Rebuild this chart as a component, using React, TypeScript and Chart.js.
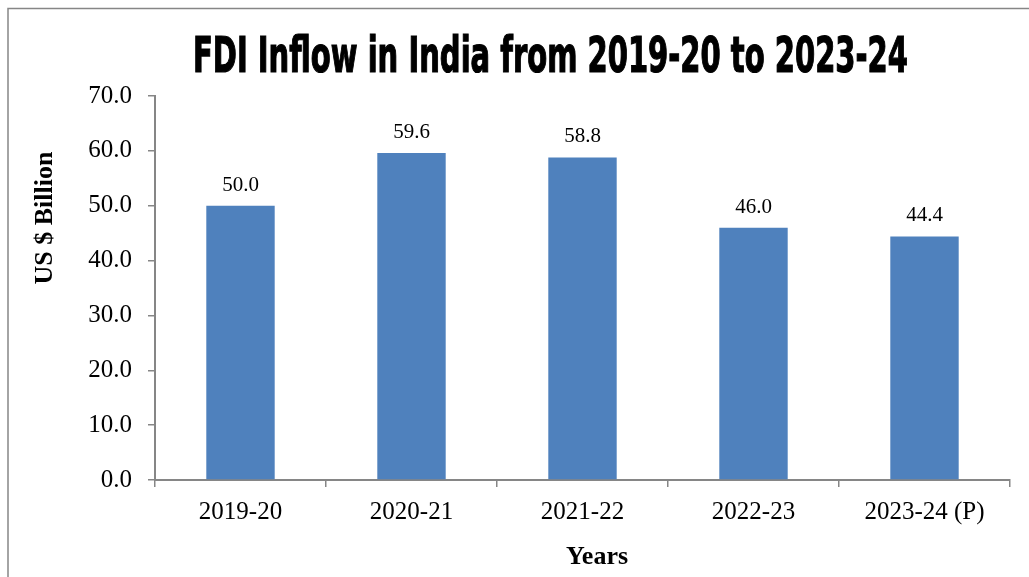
import React, { useEffect, useRef } from "react";
import { Chart, registerables } from "chart.js";

Chart.register(...registerables);

const categories = ["2019-20", "2020-21", "2021-22", "2022-23", "2023-24 (P)"];
const fdiValues = [50.0, 59.6, 58.8, 46.0, 44.4];
const yTicks = [0, 10, 20, 30, 40, 50, 60, 70];
const titleText = "FDI Inflow in India from 2019-20 to 2023-24";
const yTitle = "US $ Billion";
const xTitle = "Years";

const AXIS_GRAY = "#868686";
const BAR_BLUE = "#4F81BD";
const SERIF = "'Liberation Serif', 'Times New Roman', serif";

const framePlugin = {
  id: "frameAndTitle",
  beforeDraw(chart: any) {
    const ctx = chart.ctx;
    ctx.save();
    ctx.fillStyle = "#ffffff";
    ctx.fillRect(0, 0, chart.width, chart.height);
    ctx.strokeStyle = AXIS_GRAY;
    ctx.lineWidth = 1.5;
    ctx.strokeRect(8, 8.5, chart.width + 20, chart.height + 20);
    ctx.restore();
  },
  afterDraw(chart: any) {
    const ctx = chart.ctx;
    ctx.save();
    ctx.font = "bold 49px 'Liberation Sans Narrow', 'DejaVu Sans Condensed', 'Liberation Sans', sans-serif";
    const w = ctx.measureText(titleText).width;
    const targetW = 715;
    const sx = targetW / w;
    ctx.translate(550.5, 72);
    ctx.scale(sx, 1);
    ctx.fillStyle = "#000000";
    ctx.textAlign = "center";
    ctx.textBaseline = "alphabetic";
    ctx.lineWidth = 1.2;
    ctx.strokeStyle = "#000000";
    ctx.fillText(titleText, 0, 0);
    ctx.strokeText(titleText, 0, 0);
    ctx.restore();

    // axis titles
    ctx.save();
    ctx.fillStyle = "#000000";
    ctx.textAlign = "center";
    ctx.textBaseline = "alphabetic";
    ctx.font = `bold 26px ${SERIF}`;
    ctx.fillText(xTitle, 597, 564);
    ctx.translate(52, 218);
    ctx.rotate(-Math.PI / 2);
    ctx.fillText(yTitle, 0, 0);
    ctx.restore();
  },
};

const valueLabelPlugin = {
  id: "valueLabels",
  afterDatasetsDraw(chart: any) {
    const ctx = chart.ctx;
    const meta = chart.getDatasetMeta(0);
    ctx.save();
    ctx.font = `21px ${SERIF}`;
    ctx.fillStyle = "#000000";
    ctx.textAlign = "center";
    ctx.textBaseline = "alphabetic";
    meta.data.forEach((bar: any, i: number) => {
      ctx.fillText(fdiValues[i].toFixed(1), bar.x, bar.y - 15);
    });
    ctx.restore();
  },
};

export default function App() {
  const ref = useRef<HTMLCanvasElement | null>(null);

  useEffect(() => {
    if (!ref.current) return;
    const chart = new Chart(ref.current, {
      type: "bar",
      data: {
        labels: categories,
        datasets: [
          {
            data: fdiValues,
            backgroundColor: BAR_BLUE,
            borderWidth: 0,
            barPercentage: 0.4,
            categoryPercentage: 1,
          },
        ],
      },
      options: {
        responsive: false,
        animation: false,
        devicePixelRatio: 1,
        layout: { padding: { top: 96, left: 0, right: 19, bottom: 0 } },
        plugins: {
          legend: { display: false },
          title: { display: false },
          tooltip: { enabled: false },
        },
        scales: {
          x: {
            grid: {
              offset: true,
              drawOnChartArea: false,
              drawTicks: true,
              tickLength: 7,
              color: AXIS_GRAY,
              lineWidth: 1.5,
            },
            border: { color: AXIS_GRAY, width: 2 },
            ticks: {
              color: "#000000",
              font: { family: SERIF, size: 25 },
              padding: 10,
              maxRotation: 0,
            },
            afterFit(scale: any) {
              scale.height = 97;
            },
          },
          y: {
            min: 0,
            max: 70,
            afterBuildTicks(scale: any) {
              scale.ticks = yTicks.map((v) => ({ value: v }));
            },
            grid: {
              drawOnChartArea: false,
              drawTicks: true,
              tickLength: 7,
              color: AXIS_GRAY,
              lineWidth: 1.5,
            },
            border: { color: AXIS_GRAY, width: 2 },
            ticks: {
              color: "#000000",
              font: { family: SERIF, size: 25 },
              padding: 16,
              callback: (v: any) => Number(v).toFixed(1),
            },
            afterFit(scale: any) {
              scale.width = 155;
            },
          },
        },
      },
      plugins: [framePlugin, valueLabelPlugin],
    });
    return () => chart.destroy();
  }, []);

  return (
    <canvas
      ref={ref}
      width={1029}
      height={577}
      style={{ position: "fixed", left: 0, top: 0, width: 1029, height: 577 }}
    />
  );
}
